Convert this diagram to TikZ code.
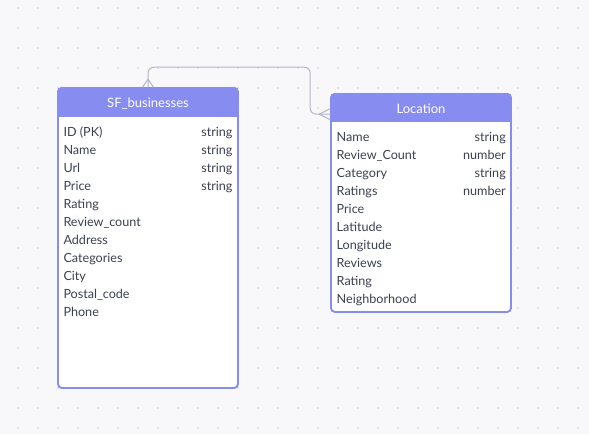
\documentclass[tikz,border=0pt]{standalone}
\usepackage{fontspec}
\setmainfont{Lato}
\usetikzlibrary{calc}
\definecolor{bg}{HTML}{F8F8FA}
\definecolor{dotc}{HTML}{DADBE2}
\definecolor{hdr}{HTML}{878CF0}
\definecolor{txt}{HTML}{3B4150}
\definecolor{conn}{HTML}{B2B6C8}
\begin{document}
\begin{tikzpicture}[x=1pt,y=-1pt,
  tbl/.style={draw=hdr, line width=1.6pt, rounded corners=4pt, inner sep=0pt},
  fld/.style={anchor=base west, inner sep=0pt, text=txt, font=\fontsize{12.6}{14}\selectfont},
  typ/.style={anchor=base east, inner sep=0pt, text=txt, font=\fontsize{12.6}{14}\selectfont},
  ttl/.style={anchor=base, inner sep=0pt, text=white, font=\fontsize{13}{15}\selectfont},
  link/.style={draw=conn, line width=1pt, rounded corners=6pt},
  foot/.style={draw=conn, line width=1pt}]
\fill[bg] (0,0) rectangle (589,434);
\useasboundingbox (0,0) rectangle (589,434);
\foreach \i in {0,...,28} \foreach \j in {0,...,21}
  \fill[dotc] (18+20*\i, 8+20*\j) circle (1.1pt);

% SF_businesses table
\node[tbl, fill=white, minimum width=180pt, minimum height=300pt] (sf) at (148,238) {};
\begin{scope}
  \clip[rounded corners=4pt] (sf.north west) rectangle (sf.south east);
  \fill[hdr] (sf.north west) rectangle ($(sf.north east)+(0,30)$);
\end{scope}
\node[tbl, minimum width=180pt, minimum height=300pt] (sfb) at (sf) {};
\node[ttl] (sft) at (148,107.7) {SF\_businesses};
\foreach \t [count=\k from 0] in {ID (PK),Name,Url,Price,Rating,Review\_count,Address,Categories,City,Postal\_code,Phone}
  \node[fld] (sff\k) at (63.3,136.3+18*\k) {\t};
\foreach \t [count=\k from 0] in {string,string,string,string}
  \node[typ] (sfy\k) at (232.7,136.3+18*\k) {\t};

% Location table
\node[tbl, fill=white, minimum width=180pt, minimum height=218pt] (loc) at (421,203) {};
\begin{scope}
  \clip[rounded corners=4pt] (loc.north west) rectangle (loc.south east);
  \fill[hdr] (loc.north west) rectangle ($(loc.north east)+(0,29)$);
\end{scope}
\node[tbl, minimum width=180pt, minimum height=218pt] (locb) at (loc) {};
\node[ttl] (loct) at (421,113.3) {Location};
\foreach \t [count=\k from 0] in {Name,Review\_Count,Category,Ratings,Price,Latitude,Longitude,Reviews,Rating,Neighborhood}
  \node[fld] (lf\k) at (336.5,141+18*\k) {\t};
\foreach \t [count=\k from 0] in {string,number,string,number}
  \node[typ] (ly\k) at (506,141+18*\k) {\t};

% connector
\coordinate (le) at ($(loc.north west)+(0,21)$);
\coordinate (ls) at (sf.north);
\draw[link] (ls) -- ++(0,-20) -| ($(le)+(-20,0)$) -- (le);
\draw[foot] ($(ls)+(0,-8)$) -- ($(ls)+(-5.5,0)$);
\draw[foot] ($(ls)+(0,-8)$) -- ($(ls)+(5.5,0)$);
\draw[foot] ($(le)+(-11,0)$) -- ($(le)+(0,-5.5)$);
\draw[foot] ($(le)+(-11,0)$) -- ($(le)+(0,5.5)$);
\end{tikzpicture}
\end{document}
